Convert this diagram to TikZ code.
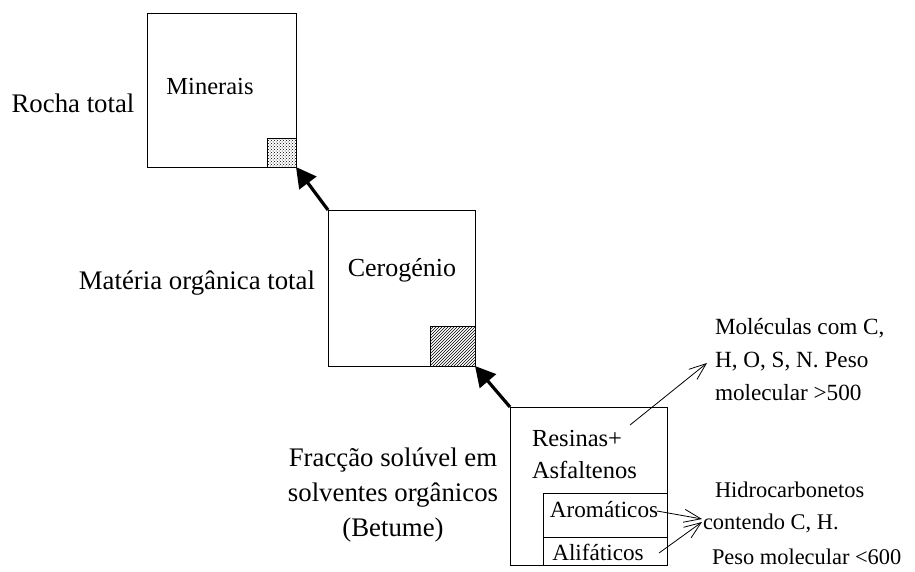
\documentclass[tikz,border=0pt]{standalone}
\usepackage{fontspec}
\setmainfont{Liberation Serif}
\usetikzlibrary{arrows.meta,patterns}
\begin{document}
\begin{tikzpicture}[x=1pt,y=-1pt,
  every node/.style={inner sep=0pt,outer sep=0pt},
  bigtxt/.style={font=\fontsize{26.8}{35}\selectfont},
  midtxt/.style={font=\fontsize{24.5}{32}\selectfont},
  smalltxt/.style={font=\fontsize{23.2}{33}\selectfont},
  notetxt/.style={font=\fontsize{22.4}{33}\selectfont},
  box/.style={draw,line width=0.9pt,anchor=north west},
  bigarrow/.style={line width=3.2pt,-{Triangle[length=20pt,width=21pt]}},
  thinarrow/.style={line width=0.8pt,-{Straight Barb[length=17pt,width=13pt,line width=0.8pt]}}]
\useasboundingbox (0,0) rectangle (915,571);

% level boxes
\node[box,minimum width=149pt,minimum height=154pt] (min) at (147,13) {};
\node[box,minimum width=147pt,minimum height=156pt] (ceg) at (328,210) {};
\node[box,minimum width=157pt,minimum height=158pt] (bet) at (510,407) {};
\node[box,minimum width=124pt,minimum height=44pt] (aro) at (543,493) {};
\node[box,minimum width=124pt,minimum height=28pt] (ali) at (543,537) {};

% shaded corners
\node[box,minimum width=29pt,minimum height=29pt,pattern=crosshatch dots] (dotsq) at (267,138) {};
\node[box,minimum width=45pt,minimum height=40pt,pattern=north east lines] (hatsq) at (430,326) {};

% labels
\node[bigtxt] (rocha) at (73,103) {Rocha total};
\node[midtxt] (minlab) at (210,87) {Minerais};
\node[bigtxt,anchor=east] (mot) at (315,283) {Matéria orgânica total};
\node[bigtxt,font=\fontsize{26}{32}\selectfont] (ceglab) at (402,270) {Cerogénio};
\node[bigtxt,align=center] (frac) at (393,495)
  {Fracção solúvel em\\solventes orgânicos\\(Betume)};
\node[midtxt,align=left,anchor=west] (res) at (532,454)
  {Resinas+\\Asfaltenos};
\node[smalltxt] (arolab) at (604,510) {Aromáticos};
\node[smalltxt] (alilab) at (598,552) {Alifáticos};
\node[smalltxt,align=left,anchor=west] (mol) at (715,360)
  {Moléculas com C,\\H, O, S, N. Peso\\molecular >500};
\node[notetxt,anchor=west] (hid1) at (715,490) {Hidrocarbonetos};
\node[notetxt,anchor=west] (hid2) at (703,523) {contendo C, H.};
\node[notetxt,anchor=west] (hid3) at (712,557) {Peso molecular <600};

% connectors
\coordinate (molsrc) at (630,425);
\coordinate (molend) at (707,363);
\coordinate (arosrc) at (657,511);
\coordinate (alisrc) at (659,553);
\coordinate (hidtipA) at (702,519);
\coordinate (hidtipB) at (702,522);
\draw[bigarrow] (ceg.north west) -- (min.south east);
\draw[bigarrow] (bet.north west) -- (ceg.south east);
\draw[thinarrow] (molsrc) -- (molend);
\draw[thinarrow] (arosrc) -- (hidtipA);
\draw[thinarrow] (alisrc) -- (hidtipB);
\end{tikzpicture}
\end{document}
